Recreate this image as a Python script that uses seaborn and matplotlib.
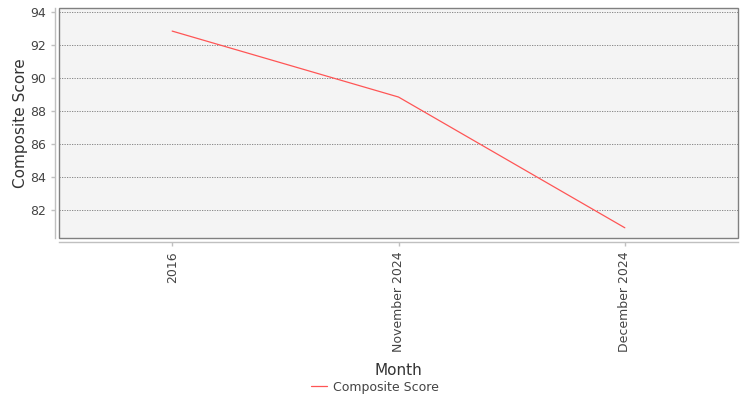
import pandas as pd
import seaborn as sns
import matplotlib.pyplot as plt
from matplotlib.patches import Rectangle

months = ["2016", "November 2024", "December 2024"]
scores = [92.85, 88.85, 80.92]

df = pd.DataFrame({"Month": months, "Composite Score": scores})

sns.set_style("white")
plt.rcParams['font.family'] = ['DejaVu Sans']

fig = plt.figure(figsize=(7.5, 4), dpi=100)
ax = fig.add_axes([59 / 750, 1 - 238 / 400, (738 - 59) / 750, (238 - 8) / 400])
ax.set_facecolor("#f4f4f4")

sns.lineplot(data=df, x="Month", y="Composite Score", color="#ff5555",
             linewidth=0.9, sort=False, ax=ax, label="Composite Score")

ax.set_xlim(-0.5, 2.5)
ax.set_ylim(80.3, 94.25)
ax.set_yticks([82, 84, 86, 88, 90, 92, 94])
ax.grid(axis="y", color="#777777", linestyle=(0, (1.5, 1.5)), linewidth=0.6)
ax.set_axisbelow(True)

# border of the plot area
ax.add_patch(Rectangle((0, 0), 1, 1, transform=ax.transAxes, fill=False,
                       edgecolor="#808080", linewidth=1.0, clip_on=False, zorder=5))
for side in ["top", "right"]:
    ax.spines[side].set_visible(False)
for side in ["left", "bottom"]:
    ax.spines[side].set_position(("outward", 3))
    ax.spines[side].set_color("#c0c0c0")
    ax.spines[side].set_linewidth(1.0)

ax.tick_params(axis="both", colors="#c0c0c0", length=3, width=1, direction="out",
               labelcolor="#444444", labelsize=9, left=True, bottom=True)
ax.tick_params(axis="x", labelrotation=90)

ax.set_xlabel("Month", fontsize=11, color="#333333", labelpad=8)
ax.set_ylabel("Composite Score", fontsize=11, color="#333333", labelpad=1)

ax.get_legend().remove()
handles, labels = ax.get_legend_handles_labels()
fig.legend(handles, labels, loc="center", bbox_to_anchor=(0.5, 1 - 387 / 400),
           frameon=False, fontsize=9, handlelength=1.3, handletextpad=0.5,
           labelcolor="#444444")

fig.savefig("out.png", dpi=100)
